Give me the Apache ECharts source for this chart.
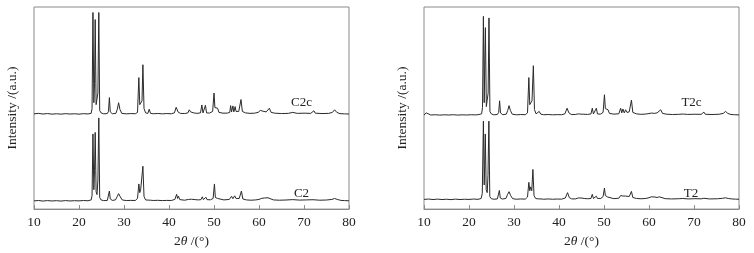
<!DOCTYPE html>
<html>
<head>
<meta charset="utf-8">
<script src="https://cdn.jsdelivr.net/npm/echarts@6/dist/echarts.min.js"></script>
<style>
html,body{margin:0;padding:0;background:#fff;}
#chart{width:754px;height:253px;}
</style>
</head>
<body>
<div id="chart"></div>
<script>
// x-axis ticks (2θ, degrees)
var xTicks = [10, 20, 30, 40, 50, 60, 70, 80];
var seriesNames = ['C2c', 'C2', 'T2c', 'T2'];

// [2θ, intensity (a.u., arbitrary offset units)]
var C2c = [[10,98.5],[11,99],[12,98.3],[13,98.8],[14,98.2],[15,98.6],[16,98.2],[17,98.7],[18,98.3],[19,98.6],[20,98.2],[21,98.7],[22,98.4],[22.7,99],
[22.9,104],[23.1,203.3],[23.3,110],[23.45,130],[23.6,196],[23.8,108],[24.0,106],[24.2,120],[24.4,203.3],[24.6,102],[24.9,99.5],
[25.5,98.5],[26.3,98.8],[26.55,101],[26.75,115.3],[26.95,100.5],[27.4,98.6],[28.2,99],[28.5,103],[28.8,110],[29.1,103],[29.5,99],[30.5,98.5],[31.5,98.8],[32.5,98.6],[33.0,100],[33.3,136],[33.5,108],[33.8,109],[34.0,112],[34.2,149.3],[34.45,104],[34.8,99.5],[35.3,99],[35.6,103.3],[35.9,99],[36.5,98.6],[37.5,98.9],[38.5,98.5],[39.5,98.8],[40.5,98.6],[41.2,99.5],[41.6,105.3],[42.0,100.5],[42.5,99],[43.5,98.8],[44.2,99.5],[44.5,102.7],[44.8,100.5],[45.1,102],[45.5,99.5],[46.2,99],[47.0,99.5],[47.3,107.7],[47.55,99.5],[47.9,99.8],[48.1,107.3],[48.35,99.5],[49.0,99.3],[49.7,101],[50.0,120],[50.2,105],[50.4,106],[50.6,103],[50.8,104.3],[51.1,100],[52,99.2],[53.0,99.3],[53.5,100],[53.7,107],[53.9,100.5],[54.2,106.7],[54.4,100.5],[54.7,106],[54.9,101],[55.5,101],[56.0,113.3],[56.3,101],[57,99.5],[58,99],[59,99.2],[59.8,100],[60.3,102],[60.7,100],[61.1,101],[61.6,100.5],[62.3,104.3],[62.7,100],[63.5,99.2],[65,98.8],[66.5,99],[67.5,100],[68.5,99],[70,99.2],[71.5,99],[72.2,101.7],[72.5,99.2],[74,98.8],[75.5,99],[76.3,100],[76.8,102.7],[77.3,100],[78,98.7],[79,98.5],[80,98.3]];

var C2 = [[10,8.5],[11,8.9],[12,8.3],[13,8.8],[14,8.4],[15,8.7],[16,8.3],[17,8.8],[18,8.4],[19,8.7],[20,8.5],[21,8.9],[22,8.6],[22.7,9.5],
[22.9,14],[23.1,77.7],[23.3,20],[23.45,40],[23.6,79.3],[23.8,18],[24.0,15],[24.2,30],[24.4,94.3],[24.6,12],[24.9,9.5],
[25.5,8.7],[26.3,9],[26.55,11],[26.75,18.7],[26.95,10.5],[27.4,9],[28.1,9.5],[28.5,13],[28.8,16],[29.2,12.5],[29.6,9.5],[30.5,8.8],[31.5,9],[32.5,8.9],[33.0,11],[33.3,26],[33.5,17],[33.7,20],[33.95,18],[34.2,44.3],[34.45,13],[34.8,9.5],[35.3,9.3],[35.6,11],[35.9,9.2],[36.5,8.9],[37.5,9.1],[38.5,8.8],[39.5,9],[40.5,8.9],[41.3,10],[41.7,15.3],[41.9,11],[42.1,13.3],[42.4,9.8],[43.5,9.2],[44.3,10],[44.6,11],[45.0,10.2],[45.4,11.2],[45.8,9.8],[46.5,9.5],[47.1,9.8],[47.4,12.7],[47.65,9.8],[48.0,10],[48.2,12.3],[48.45,9.8],[49.2,9.6],[49.8,11],[50.1,26],[50.3,12],[50.5,13.7],[50.8,11],[51.2,9.8],[52.2,9.5],[53.4,10],[53.9,13.3],[54.2,10.8],[54.6,13.7],[54.9,11],[55.2,12.5],[55.6,11],[56.1,18.7],[56.4,10.5],[57.2,9.5],[58.2,9.2],[59.3,9.5],[60.0,10],[60.5,11],[60.8,10.2],[61.2,11.5],[61.6,10.5],[62.0,11.7],[62.4,10.4],[63.2,9.5],[64.5,9.2],[66,9.4],[67.5,9.8],[69,9.3],[70.5,9.5],[72,9.7],[73.5,9.2],[75,9.4],[76.2,10],[76.8,11],[77.4,10],[78.2,9],[79,8.8],[80,8.6]];

var T2c = [[10,97.3],[10.3,97.6],[10.5,99.5],[10.7,97.5],[11.5,97.3],[12.5,97.6],[13.5,97.2],[14.5,97.5],[15.5,97.3],[16.5,97.6],[17.5,97.2],[18.5,97.5],[19.5,97.3],[20.5,97.6],[21.5,97.4],[22.2,97.8],[22.8,98.5],
[23.0,105],[23.2,199.3],[23.38,110],[23.5,150],[23.64,187.7],[23.85,106],[24.05,104],[24.25,120],[24.44,197.7],[24.65,101],[24.95,98.5],
[25.5,97.5],[26.3,97.8],[26.6,100],[26.8,112],[27.0,99.5],[27.5,97.6],[28.3,98.2],[28.6,102],[28.9,107],[29.2,102],[29.6,98.2],[30.5,97.5],[31.5,97.8],[32.5,97.6],[33.0,99.5],[33.3,136],[33.5,108],[33.7,109.3],[34.0,112],[34.3,148.3],[34.55,103],[34.9,98.5],[35.3,98.3],[35.6,101],[35.95,98.2],[36.6,97.6],[37.6,97.8],[38.6,97.5],[39.6,97.7],[40.6,97.6],[41.3,98.5],[41.8,104.3],[42.2,99.5],[42.7,97.9],[43.6,97.8],[44.3,98.5],[44.6,99.3],[44.85,98.2],[45.1,98.5],[45.5,98.1],[46.3,97.9],[47.1,98.4],[47.4,104.3],[47.65,98.4],[48.0,98.7],[48.3,104.3],[48.55,98.4],[49.2,98.2],[49.8,100],[50.1,118.3],[50.3,104],[50.5,105],[50.7,102],[50.9,102.7],[51.2,99],[52.2,98.2],[53.3,98.6],[53.7,104.3],[53.95,99.5],[54.2,103.5],[54.5,99.5],[54.8,102.7],[55.1,100],[55.6,100.5],[56.1,112.7],[56.4,100],[57.2,98.5],[58.2,98],[59.3,98.3],[60.0,98.8],[60.5,99.3],[60.8,98.6],[61.2,99],[61.8,99.5],[62.6,102.7],[63.0,99],[63.8,98.2],[65.2,97.8],[66.6,98],[67.6,98.3],[68.6,97.9],[70.2,98.1],[71.6,98],[72.2,100.3],[72.5,98.1],[74,97.8],[75.6,98.1],[76.5,99],[77.0,101],[77.5,99],[78.2,97.8],[79,97.6],[80,97.4]];

var T2 = [[10,10],[11,10.4],[12,9.9],[13,10.3],[14,9.9],[15,10.2],[16,9.8],[17,10.3],[18,9.9],[19,10.2],[20,10],[21,10.4],[22,10.1],[22.7,11],
[22.95,16],[23.2,91],[23.38,25],[23.48,45],[23.62,77.7],[23.82,20],[24.05,17],[24.22,35],[24.42,91],[24.62,13],[24.95,10.8],
[25.5,10.2],[26.3,10.5],[26.55,12.5],[26.75,19.3],[26.95,11.5],[27.4,10.4],[28.2,11],[28.55,15],[28.9,18],[29.25,14],[29.7,10.8],[30.5,10.2],[31.5,10.5],[32.5,10.3],[33.0,12.5],[33.3,27.7],[33.5,19],[33.7,23],[33.95,19],[34.2,41],[34.45,14],[34.8,11],[35.3,10.6],[35.7,11.5],[36.0,10.5],[36.6,10.2],[37.6,10.5],[38.6,10.2],[39.6,10.4],[40.6,10.3],[41.4,11.5],[41.9,17],[42.3,11.8],[42.8,10.6],[43.6,10.5],[44.3,11.5],[44.6,13],[44.9,11.5],[45.2,12.5],[45.6,11],[46.4,10.7],[47.1,11],[47.4,15.3],[47.65,11],[48.0,11.3],[48.3,13.3],[48.55,11],[49.3,11],[49.8,13],[50.1,21.7],[50.3,14],[50.5,15],[50.8,12.5],[51.2,11.2],[52.2,10.8],[53.3,11.3],[53.7,14],[54.0,12],[54.2,13.5],[54.5,12],[54.8,13.5],[55.1,12.5],[55.6,13],[56.1,18.3],[56.4,12],[57.2,11],[58.2,10.7],[59.3,11],[60.0,11.8],[60.5,12.7],[60.8,11.8],[61.3,12.5],[61.8,12],[62.3,12.7],[62.7,11.5],[63.6,10.8],[65,10.5],[66.5,10.7],[67.5,11],[68.7,10.5],[70.2,10.8],[71.6,10.6],[72.2,11.2],[73.5,10.5],[75.2,10.7],[76.4,11.2],[77.0,11.7],[77.6,11],[78.4,10.5],[79.2,10.3],[80,10.2]];

var serif = '"Liberation Serif", "DejaVu Serif", serif';
var frame = '#8a8a8a';
var lineColor = '#2a2a2a';
var fs = 13.5;

function xAxisCfg(gi) {
  return {
    gridIndex: gi, type: 'value', min: xTicks[0], max: xTicks[xTicks.length - 1], interval: 10,
    axisLine: { show: true, lineStyle: { color: frame, width: 1 } },
    axisTick: { show: true, inside: true, length: 4, lineStyle: { color: frame } },
    axisLabel: { show: true, fontFamily: serif, fontSize: fs, color: '#222', margin: 6 },
    splitLine: { show: false },
    name: '{n|2}{i|θ}{n| /(°)}', nameLocation: 'middle', nameGap: 22,
    nameTextStyle: { fontFamily: serif, fontSize: fs, color: '#222',
      rich: { n: { fontFamily: serif, fontSize: fs, color: '#222' },
              i: { fontFamily: serif, fontSize: fs, fontStyle: 'italic', color: '#222' } } }
  };
}
function yAxisCfg(gi) {
  return {
    gridIndex: gi, type: 'value', min: 0, max: 209,
    axisLine: { show: false }, axisTick: { show: false }, axisLabel: { show: false }, splitLine: { show: false },
    name: 'Intensity /(a.u.)', nameLocation: 'middle', nameGap: 15,
    nameTextStyle: { fontFamily: serif, fontSize: fs, color: '#222' }
  };
}
function lineSeries(name, data, gi) {
  return { name: name, type: 'line', data: data, xAxisIndex: gi, yAxisIndex: gi,
    showSymbol: false, symbol: 'none', smooth: false,
    lineStyle: { color: lineColor, width: 1 }, silent: true };
}

var chart = echarts.init(document.getElementById('chart'), null, { renderer: 'canvas' });
chart.setOption({
  animation: false,
  backgroundColor: '#fff',
  grid: [
    { left: 34, top: 7, width: 315, height: 209, show: true, borderColor: frame, borderWidth: 1, backgroundColor: 'transparent' },
    { left: 424, top: 7, width: 315, height: 209, show: true, borderColor: frame, borderWidth: 1, backgroundColor: 'transparent' }
  ],
  xAxis: [xAxisCfg(0), xAxisCfg(1)],
  yAxis: [yAxisCfg(0), yAxisCfg(1)],
  series: [
    lineSeries(seriesNames[0], C2c, 0),
    lineSeries(seriesNames[1], C2, 0),
    lineSeries(seriesNames[2], T2c, 1),
    lineSeries(seriesNames[3], T2, 1)
  ],
  graphic: [
    { type: 'text', x: 301.5, y: 103, style: { text: seriesNames[0], font: '13px ' + serif, fill: '#222', textAlign: 'center', textVerticalAlign: 'middle' } },
    { type: 'text', x: 301.5, y: 194, style: { text: seriesNames[1], font: '13px ' + serif, fill: '#222', textAlign: 'center', textVerticalAlign: 'middle' } },
    { type: 'text', x: 691.5, y: 103, style: { text: seriesNames[2], font: '13px ' + serif, fill: '#222', textAlign: 'center', textVerticalAlign: 'middle' } },
    { type: 'text', x: 691, y: 194, style: { text: seriesNames[3], font: '13px ' + serif, fill: '#222', textAlign: 'center', textVerticalAlign: 'middle' } }
  ]
});
</script>
</body>
</html>
